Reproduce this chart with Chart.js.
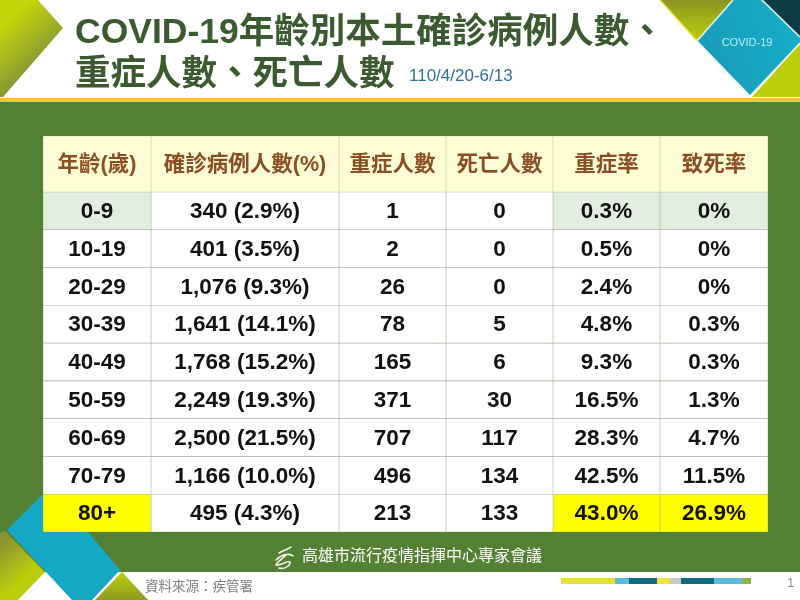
<!DOCTYPE html>
<html><head><meta charset="utf-8">
<style>html,body{margin:0;padding:0;background:#fff}canvas{display:block;position:absolute;left:0}#c{top:0}#h{top:136px}</style>
<script src="https://cdn.jsdelivr.net/npm/chart.js@4"></script>
</head><body>
<canvas id="c" width="800" height="600"></canvas>
<canvas id="h" width="800" height="56"></canvas>
<script>
const titleLine1 = 'COVID-19年齡別本土確診病例人數、';
const titleLine2 = '重症人數、死亡人數';
const dateRange = '110/4/20-6/13';
const badge = 'COVID-19';
const footerOrg = '高雄市流行疫情指揮中心專家會議';
const sourceNote = '資料來源：疾管署';
const pageNo = '1';
const headers = ['年齡(歲)','確診病例人數(%)','重症人數','死亡人數','重症率','致死率'];
const ages = ['0-9','10-19','20-29','30-39','40-49','50-59','60-69','70-79','80+'];
const cases = [340,401,1076,1641,1768,2249,2500,1166,495];
const casePct = [2.9,3.5,9.3,14.1,15.2,19.3,21.5,10.0,4.3];
const severe = [1,2,26,78,165,371,707,496,213];
const deaths = [0,0,0,5,6,30,117,134,133];
const severeRate = ['0.3%','0.5%','2.4%','4.8%','9.3%','16.5%','28.3%','42.5%','43.0%'];
const fatalRate = ['0%','0%','0%','0.3%','0.3%','1.3%','4.7%','11.5%','26.9%'];
const columnWidths = [108,188,107,107,107,108];

const LAT = '"Liberation Sans","Noto Sans CJK TC",sans-serif';
const columns = [
  ages,
  cases.map((v,i)=>v.toLocaleString('en-US')+' ('+casePct[i].toFixed(1)+'%)'),
  severe.map(String),
  deaths.map(String),
  severeRate,
  fatalRate
];
const tinted = [0,4,5];
function cellFill(col,row){
  if(tinted.includes(col)&&row===0) return '#e2eee0';
  if(tinted.includes(col)&&row===8) return '#ffff00';
  return '#ffffff';
}
const hdrSets = headers.map((h,c)=>({
  data:[columnWidths[c]],cellTexts:[h],
  backgroundColor:'#fdfcd4',borderColor:'#c3cfa8',borderWidth:0.6,borderSkipped:false,
  barPercentage:1,categoryPercentage:1
}));
const bodySets = columns.map((col,c)=>({
  data:ages.map(()=>columnWidths[c]),cellTexts:col,
  backgroundColor:ages.map((_,r)=>cellFill(c,r)),borderColor:'#a6b5a0',borderWidth:0.6,borderSkipped:false,
  barPercentage:1,categoryPercentage:1
}));

function poly(ctx,pts,fill){
  ctx.beginPath();pts.forEach((p,i)=>i?ctx.lineTo(p[0],p[1]):ctx.moveTo(p[0],p[1]));ctx.closePath();
  ctx.fillStyle=fill;ctx.fill();
}
function lin(ctx,x0,y0,x1,y1,a,b){const g=ctx.createLinearGradient(x0,y0,x1,y1);g.addColorStop(0,a);g.addColorStop(1,b);return g;}

const backdrop={id:'backdrop',beforeDraw(chart){
  const ctx=chart.ctx;ctx.save();
  ctx.fillStyle='#ffffff';ctx.fillRect(0,0,800,600);
  ctx.fillStyle='#548033';ctx.fillRect(0,102,800,470);
  ctx.fillStyle='#efc62e';ctx.fillRect(0,98,800,4);
  poly(ctx,[[0,0],[38,0],[63,28],[3,97],[0,97]],lin(ctx,15,15,55,60,'#c6d40a','#7f8f3a'));
  poly(ctx,[[660,0],[733,0],[697,41]],lin(ctx,700,0,700,40,'#8a9622','#bccd0c'));
  ctx.strokeStyle='#f3e34a';ctx.lineWidth=1.5;ctx.beginPath();ctx.moveTo(660,0);ctx.lineTo(697,41);ctx.stroke();
  poly(ctx,[[762,0],[800,0],[800,37]],'#0f3c44');
  poly(ctx,[[800,44],[752,97],[800,97]],'#bccd0c');
  poly(ctx,[[733,0],[762,0],[800,37],[800,43],[750,96],[697,41]],lin(ctx,700,60,790,30,'#1a9ab8','#16acc8'));
  ctx.strokeStyle='#e8f6ee';ctx.lineWidth=1.5;
  ctx.beginPath();ctx.moveTo(733,0);ctx.lineTo(697,41);ctx.lineTo(750,96);ctx.lineTo(800,43);ctx.moveTo(762,0);ctx.lineTo(800,37);ctx.stroke();
  ctx.fillStyle='#ffffff';ctx.fillRect(0,572,800,28);
  poly(ctx,[[0,533],[5,531],[45,572],[18,600],[0,600]],lin(ctx,5,540,32,570,'#8a9430','#bccd0c'));
  poly(ctx,[[7,530],[50,487],[120,570],[92,600],[72,600]],'#14a8c4');
  poly(ctx,[[122,572],[95,600],[148,600]],lin(ctx,122,572,122,600,'#bfcf0c','#8f9a24'));
  [[561,615,'#e3e32a'],[615,629,'#5dbbdc'],[629,657,'#0f6a80'],[657,670,'#efe53a'],[670,681,'#c8c8c8'],[681,714,'#0f6a80'],[714,742,'#5dbbdc'],[742,751,'#8ab34a']]
    .forEach(s=>{ctx.fillStyle=s[2];ctx.fillRect(s[0],578,s[1]-s[0],6);});
  ctx.textBaseline='middle';ctx.textAlign='left';
  ctx.fillStyle='#3c5a2f';ctx.font='bold 35.5px '+LAT;
  ctx.fillText(titleLine1,75,33);ctx.fillText(titleLine2,75,75);
  ctx.fillStyle='#2e7197';ctx.font='17px '+LAT;ctx.fillText(dateRange,409,76);
  ctx.textAlign='center';ctx.fillStyle='#b8f3f5';ctx.font='11px '+LAT;ctx.fillText(badge,747,43);
  ctx.textAlign='left';ctx.fillStyle='#ffffff';ctx.font='16px '+LAT;ctx.fillText(footerOrg,302,557);
  ctx.fillStyle='#7f7f7f';ctx.font='13.5px '+LAT;ctx.fillText(sourceNote,145,587);
  ctx.fillStyle='#8c8c8c';ctx.font='13px '+LAT;ctx.fillText(pageNo,787,583);
  ctx.strokeStyle='#f2f6ea';ctx.lineWidth=1.6;ctx.lineCap='round';
  ctx.beginPath();ctx.moveTo(279,553);ctx.bezierCurveTo(284,550,289,549,291,547);ctx.moveTo(276,560);ctx.bezierCurveTo(282,554,290,553,293,556);
  ctx.moveTo(286,555);ctx.bezierCurveTo(281,560,276,563,276,565);ctx.bezierCurveTo(282,566,287,560,290,562);ctx.bezierCurveTo(291,565,284,570,279,568);ctx.stroke();
  ctx.restore();
}};
function cellTextPlugin(color,font){return {id:'cellText',afterDatasetsDraw(chart){
  const ctx=chart.ctx;ctx.save();ctx.textAlign='center';ctx.textBaseline='middle';
  ctx.fillStyle=color;ctx.font=font;
  chart.data.datasets.forEach((ds,i)=>{
    chart.getDatasetMeta(i).data.forEach((el,j)=>{
      const p=el.getProps(['x','y','base'],true);
      ctx.fillText(ds.cellTexts[j],(p.x+p.base)/2,p.y+1);
    });
  });
  ctx.restore();
}};}
function tableOptions(padTop,padBottom,labels){return {
  indexAxis:'y',responsive:false,animation:false,devicePixelRatio:1,
  layout:{padding:{left:43,right:32,top:padTop,bottom:padBottom}},
  plugins:{legend:{display:false},tooltip:{enabled:false},title:{display:false}},
  scales:{
    x:{type:'linear',stacked:true,min:0,max:columnWidths.reduce((a,b)=>a+b,0),display:false},
    y:{type:'category',labels,stacked:true,offset:true,display:false}
  }
};}
new Chart(document.getElementById('c'),{
  type:'bar',data:{labels:ages,datasets:bodySets},
  options:tableOptions(192,68,ages),
  plugins:[backdrop,cellTextPlugin('#111111','bold 22.5px '+LAT)]
});
new Chart(document.getElementById('h'),{
  type:'bar',data:{labels:['header'],datasets:hdrSets},
  options:tableOptions(0,0,['header']),
  plugins:[cellTextPlugin('#8a4e22','bold 21.5px '+LAT)]
});
</script>
</body></html>
